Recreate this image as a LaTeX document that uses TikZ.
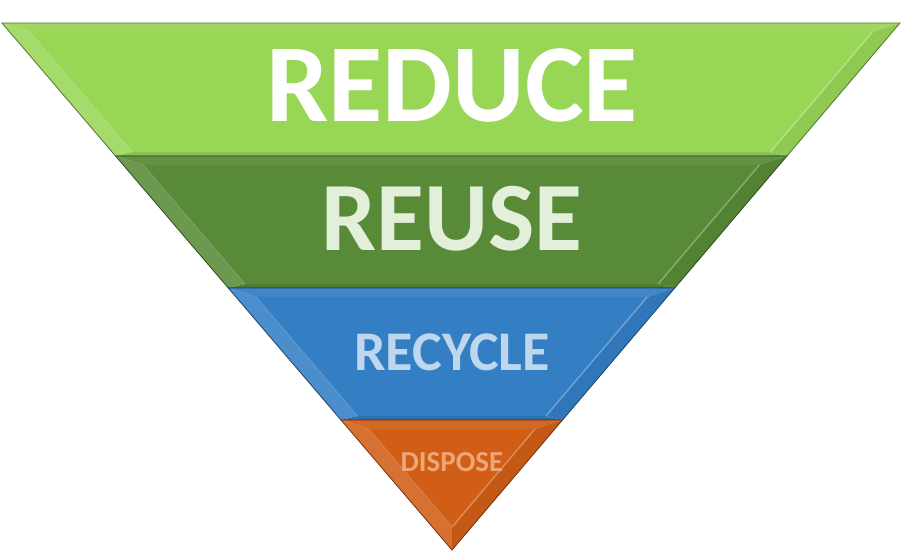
\documentclass[tikz,border=0pt]{standalone}
\usepackage{fontspec}
\setmainfont{Carlito}
\usetikzlibrary{calc}

\definecolor{reduceclr}{HTML}{98D656}
\definecolor{reuseclr}{HTML}{588A38}
\definecolor{recycleclr}{HTML}{347EC4}
\definecolor{disposeclr}{HTML}{D05E16}
\definecolor{reducetxt}{HTML}{FFFFFF}
\definecolor{reusetxt}{HTML}{E2EFDA}
\definecolor{recycletxt}{HTML}{BDD7EE}
\definecolor{disposetxt}{HTML}{EEA677}

\begin{document}
\begin{tikzpicture}[x=1pt, y=-1pt,
    declare function={xl(\y)=2+0.85389*(\y-23); xr(\y)=900-0.85010*(\y-23);},
    bandlabel/.style={font=\bfseries, inner sep=0pt}]
  \useasboundingbox (0,0) rectangle (904,555);
  % one band per level, top to bottom
  \foreach \t/\b/\clr/\txt/\sz/\lab/\ty [count=\i] in
      {23/156/reduceclr/reducetxt/111/REDUCE/85.5,
       156/288/reuseclr/reusetxt/98/REUSE/218.5,
       288/420/recycleclr/recycletxt/56/RECYCLE/352.5,
       420/550/disposeclr/disposetxt/29/DISPOSE/462.5}
  {
    \pgfmathsetmacro\inTop{\t+9}
    \pgfmathsetmacro\inBot{min(\b-4,527)}
    \coordinate (otl) at ({xl(\t)},\t);
    \coordinate (otr) at ({xr(\t)},\t);
    \coordinate (obr) at ({xr(\b)},\b);
    \coordinate (obl) at ({xl(\b)},\b);
    \coordinate (itl) at ({xl(\inTop)+20},\inTop);
    \coordinate (itr) at ({xr(\inTop)-20},\inTop);
    \coordinate (ibr) at ({max(xr(\inBot)-20,452)},\inBot);
    \coordinate (ibl) at ({min(xl(\inBot)+20,452)},\inBot);
    % bevel strips
    \fill[\clr!94!white] (otl) -- (otr) -- (itr) -- (itl) -- cycle;
    \fill[\clr!88!white] (otl) -- (itl) -- (ibl) -- (obl) -- cycle;
    \fill[\clr!94!black] (otr) -- (obr) -- (ibr) -- (itr) -- cycle;
    \fill[\clr!90!black] (ibl) -- (ibr) -- (obr) -- (obl) -- cycle;
    % face
    \fill[\clr] (itl) -- (itr) -- (ibr) -- (ibl) -- cycle;
    \draw[\clr!72!white, line width=1.5pt] (itr) -- (ibr);
    \draw[\clr!80!white, line width=1pt] (itl) -- (ibl);
    \draw[\clr!55!black, line width=0.8pt] (otl) -- (otr) -- (obr) -- (obl) -- cycle;
    \node[bandlabel, text=\txt, font=\bfseries\fontsize{\sz}{\sz}\selectfont]
      (band-\i) at (452,\ty) {\lab};
  }
\end{tikzpicture}
\end{document}
